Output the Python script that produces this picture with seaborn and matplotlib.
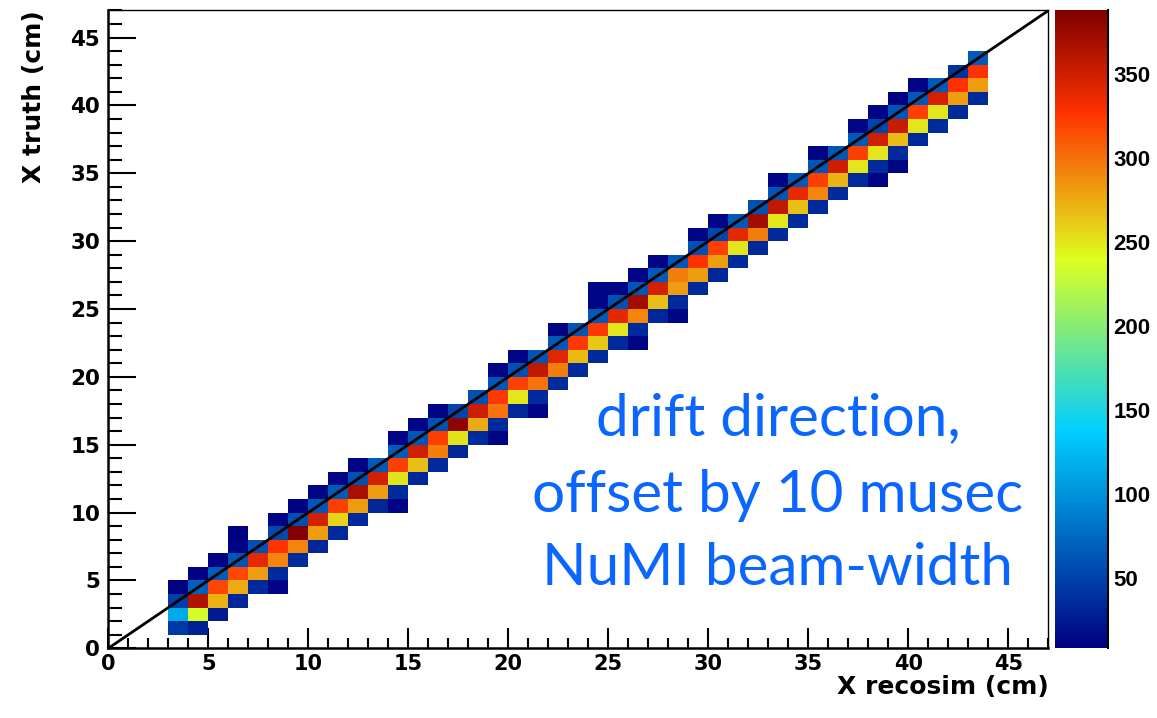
import numpy as np
import matplotlib
matplotlib.use("Agg")
import matplotlib.pyplot as plt
from matplotlib.colors import LinearSegmentedColormap
from matplotlib.ticker import MultipleLocator
import seaborn as sns

# ---- histogram content: 1 cm bins, 0-47 cm on both axes ----
n_bins = 47
recosim_bins = list(range(3, 44))          # x bin index (left edge in cm)
truth_first_bin = [1, 1, 2, 3, 4, 4, 6, 7, 8, 9, 10, 10, 12, 13, 14, 15, 15,
                   17, 17, 19, 20, 21, 22, 22, 24, 24, 26, 27, 28, 29, 30, 31,
                   32, 33, 34, 34, 35, 37, 38, 39, 40]
# entries per column, from the lowest filled truth bin upwards
column_counts = [
    [45, 115, 48, 10],
    [30, 235, 365, 68, 10],
    [25, 272, 318, 65, 10],
    [32, 276, 318, 62, 12, 9],
    [34, 282, 340, 60],
    [11, 36, 292, 326, 55, 11],
    [35, 292, 388, 58, 10],
    [33, 282, 348, 62, 12],
    [34, 258, 322, 66, 12],
    [34, 282, 369, 60, 12],
    [33, 282, 348, 64],
    [12, 35, 252, 322, 66, 12],
    [33, 267, 350, 62, 11],
    [34, 295, 322, 60, 12],
    [33, 252, 381, 52],
    [35, 275, 352, 60],
    [12, 34, 300, 325, 62, 12],
    [33, 250, 322, 60, 12],
    [12, 34, 300, 358, 62],
    [35, 295, 342, 64, 12],
    [34, 270, 325, 62],
    [34, 262, 325, 64, 12, 12],
    [34, 250, 340, 60, 12],
    [12, 35, 292, 373, 62, 12],
    [33, 267, 348, 64, 12],
    [12, 34, 282, 295, 62],
    [34, 282, 327, 60, 12],
    [33, 282, 322, 52, 12],
    [35, 250, 340, 64],
    [34, 295, 373, 60],
    [34, 250, 358, 62, 12],
    [35, 267, 338, 64],
    [34, 292, 322, 62, 12],
    [35, 272, 352, 62],
    [34, 250, 322, 64, 12],
    [12, 35, 250, 350, 52, 12],
    [12, 34, 268, 355, 62, 8],
    [34, 250, 322, 64, 12],
    [35, 250, 348, 64],
    [34, 282, 327, 40],
    [36, 282, 327, 66],
]

x_tick_values = list(range(0, 46, 5))
y_tick_values = list(range(0, 46, 5))
z_tick_values = [50, 100, 150, 200, 250, 300, 350]

x_title = "X recosim (cm)"
y_title = "X truth (cm)"
note_lines = ["drift direction,", "offset by 10 musec", "NuMI beam-width"]

# ---- fill the 2D histogram ----
counts = np.full((n_bins, n_bins), np.nan)
for xb, lo, col in zip(recosim_bins, truth_first_bin, column_counts):
    for k, c in enumerate(col):
        counts[lo + k, xb] = c

# rainbow gradient palette (navy -> cyan -> yellow -> red -> dark red)
stops = [0.00, 0.34, 0.61, 0.84, 1.00]
red = [0.00, 0.00, 0.87, 1.00, 0.51]
green = [0.00, 0.81, 1.00, 0.20, 0.00]
blue = [0.51, 1.00, 0.12, 0.00, 0.00]
palette = LinearSegmentedColormap(
    "gradient",
    {"red": [(s, v, v) for s, v in zip(stops, red)],
     "green": [(s, v, v) for s, v in zip(stops, green)],
     "blue": [(s, v, v) for s, v in zip(stops, blue)]},
    N=255,
)

sns.set_style("white")
plt.rcParams["font.family"] = ["DejaVu Sans"]
plt.rcParams["font.weight"] = "bold"
for key in ("text.color", "axes.labelcolor", "xtick.color", "ytick.color",
            "axes.edgecolor"):
    plt.rcParams[key] = "black"

fig = plt.figure(figsize=(11.57, 7.18), dpi=100)
ax = fig.add_axes([0.0936, 0.0971, 0.8126, 0.8883])
cax = fig.add_axes([0.9118, 0.0971, 0.0458, 0.8883])

sns.heatmap(counts, ax=ax, cmap=palette,
            vmin=np.nanmin(counts), vmax=np.nanmax(counts),
            cbar_ax=cax, xticklabels=False, yticklabels=False)

ax.set_xlim(0, n_bins)
ax.set_ylim(0, n_bins)

# diagonal x_reco = x_truth
ax.axline((0, 0), slope=1, color="black", lw=2.0, zorder=3)

# frame
for name, sp in ax.spines.items():
    sp.set_visible(True)
    sp.set_color("black")
    sp.set_linewidth(1.8 if name in ("left", "bottom") else 1.0)

ax.set_xticks(x_tick_values)
ax.set_xticklabels([str(v) for v in x_tick_values], fontsize=15, fontweight="bold",
                   rotation=0, family="DejaVu Sans", color="black")
ax.set_yticks(y_tick_values)
ax.set_yticklabels([str(v) for v in y_tick_values], fontsize=15.5, fontweight="bold",
                   rotation=0, family="DejaVu Sans", color="black")
ax.xaxis.set_minor_locator(MultipleLocator(1))
ax.yaxis.set_minor_locator(MultipleLocator(1))
ax.tick_params(axis="x", which="major", direction="in", length=14.5, width=1.5,
               top=False, bottom=True, pad=4, color="black")
ax.tick_params(axis="x", which="minor", direction="in", length=7.2, width=1.5,
               top=False, bottom=True, color="black")
ax.tick_params(axis="y", which="major", direction="in", length=20.5, width=1.5,
               right=False, left=True, pad=6, color="black")
ax.tick_params(axis="y", which="minor", direction="in", length=10.3, width=1.5,
               right=False, left=True, color="black")

ax.set_xlabel(x_title, fontsize=18, fontweight="bold", loc="right",
              family="DejaVu Sans", color="black")
ax.xaxis.set_label_coords(1.0, -0.042)
ax.set_ylabel(y_title, fontsize=18, fontweight="bold", loc="top",
              family="DejaVu Sans", color="black")
ax.yaxis.set_label_coords(-0.066, 1.0)

# colour scale
cbar = ax.collections[0].colorbar
cbar.outline.set_visible(False)
cbar.set_ticks(z_tick_values)
cbar.set_ticklabels([str(v) for v in z_tick_values])
cax.yaxis.set_ticks_position("right")
cax.tick_params(axis="y", which="major", direction="in", length=20, width=1.6,
                labelsize=16, pad=4, color="black", labelcolor="black")
cax.tick_params(axis="y", which="minor", length=0)
cax.spines["right"].set_visible(True)
cax.spines["right"].set_linewidth(1.5)
cax.spines["right"].set_color("black")
for lbl in cax.get_yticklabels():
    lbl.set_fontweight("bold")
    lbl.set_family(["Liberation Sans", "DejaVu Sans"])

# annotation text
note_baselines = [0.3942, 0.2869, 0.1852]
for line, yb in zip(note_lines, note_baselines):
    fig.text(0.6724, yb, line, ha="center", va="baseline", fontsize=42,
             family=["Lato", "DejaVu Sans"], fontweight="normal", color="#0a66ff")

fig.savefig("out.png", dpi=100)
